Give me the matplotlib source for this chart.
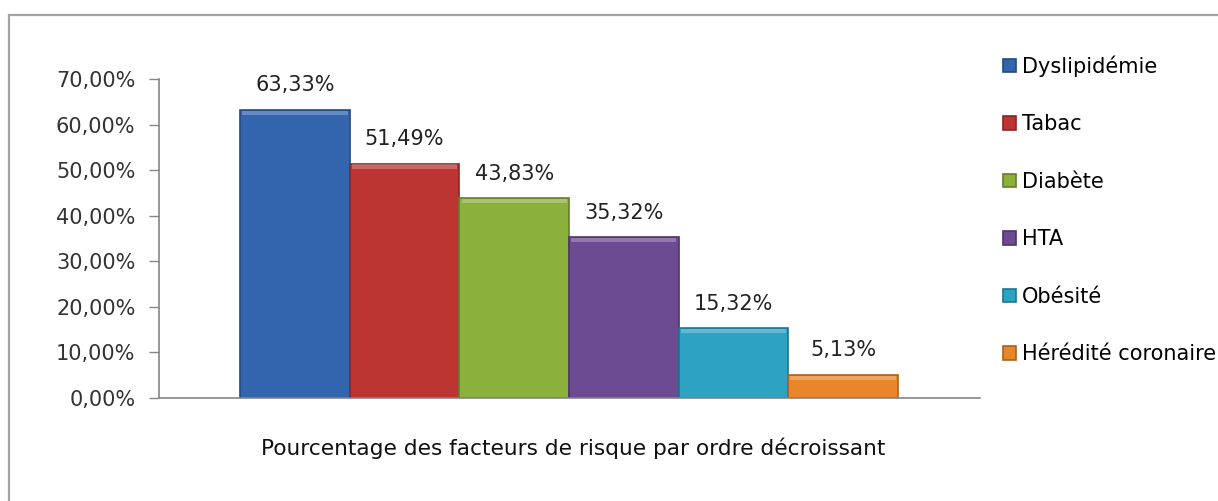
import matplotlib

matplotlib.use("Agg")
import matplotlib.pyplot as plt
from matplotlib.lines import Line2D

# facteurs de risque, par ordre décroissant
facteurs = ["Dyslipidémie", "Tabac", "Diabète", "HTA", "Obésité", "Hérédité coronaire"]
pourcentages = [63.33, 51.49, 43.83, 35.32, 15.32, 5.13]
couleurs = ["#3265ae", "#bd3532", "#8bb03c", "#6d4b92", "#2ea2c2", "#e9862c"]
bords = ["#24497f", "#8a2624", "#657f2b", "#4e356a", "#1f7590", "#a9611f"]
yticks = [0, 10, 20, 30, 40, 50, 60, 70]

plt.rcParams.update({
    "font.family": ["DejaVu Sans"],
    "font.size": 15,
})

W, H = 1218, 501
fig = plt.figure(figsize=(W / 100, H / 100), dpi=100)
ax = fig.add_axes([159 / W, 1 - 398 / H, (980 - 159) / W, (398 - 79.3) / H])

for i, (nom, val, c, e) in enumerate(zip(facteurs, pourcentages, couleurs, bords)):
    ax.bar(i, val, width=1.0, color=c, edgecolor=e, linewidth=1.2, label=nom, zorder=2)
    # liseré clair en haut (effet biseau)
    ax.bar(i, 0.9, bottom=val - 1.1, width=0.96, color="white", alpha=0.25,
           linewidth=0, zorder=3)
    ax.annotate(f"{val:.2f}%".replace(".", ","), (i, val), xytext=(0, 17.5),
                textcoords="offset points", ha="center", va="center",
                fontsize=15, color="#222222")

ax.set_xlim(-1.24, 6.25)
ax.set_ylim(0, 70)
ax.set_yticks(yticks)
ax.set_yticklabels([f"{t:.2f}%".replace(".", ",") for t in yticks], color="#333333")
ax.set_xticks([])
ax.tick_params(axis="y", direction="out", length=7, width=1, color="#868686", pad=10)
for s in ["top", "right"]:
    ax.spines[s].set_visible(False)
for s in ["left", "bottom"]:
    ax.spines[s].set_color("#868686")
    ax.spines[s].set_linewidth(1.2)

fig.text(573 / W, 1 - 448 / H, "Pourcentage des facteurs de risque par ordre décroissant",
         ha="center", va="center", fontsize=15.6, color="#111111")

ax.legend(loc="upper left", bbox_to_anchor=(993 / W, 1 - 45 / H),
          bbox_transform=fig.transFigure, frameon=False, borderpad=0,
          handlelength=0.6, handleheight=0.6, handletextpad=0.3,
          labelspacing=1.8, fontsize=15)

# cadre du graphique (coupé à droite et en bas)
fig.add_artist(Line2D([8.5 / W, 8.5 / W], [0, 1 - 14.5 / H], transform=fig.transFigure,
                      color="#a3a3a3", lw=1.6))
fig.add_artist(Line2D([8.5 / W, 1], [1 - 14.5 / H, 1 - 14.5 / H], transform=fig.transFigure,
                      color="#a3a3a3", lw=1.6))

fig.savefig("out.png", dpi=100)
